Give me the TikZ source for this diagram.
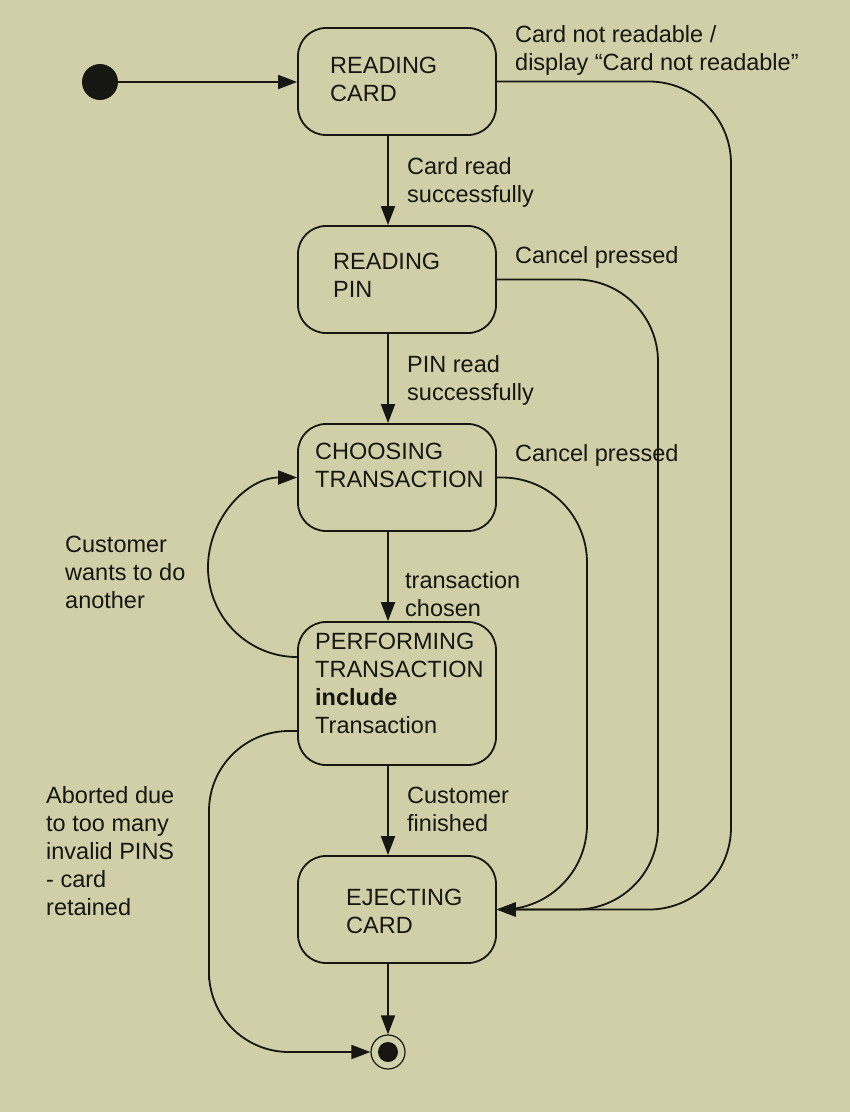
\documentclass[tikz,border=0pt]{standalone}
\usepackage{fontspec}
\setmainfont{Liberation Sans}
\usetikzlibrary{arrows.meta,calc}
\definecolor{bg}{RGB}{208,207,167}
\definecolor{ink}{RGB}{22,22,18}
\newcommand{\ml}[1]{\begin{tabular}[t]{@{}l@{}}#1\end{tabular}}
\begin{document}
\begin{tikzpicture}[x=1pt,y=-1pt,
  statebox/.style={draw=ink, rounded corners=28pt, minimum width=198pt, inner sep=0pt, line width=1.8pt},
  txt/.style={anchor=base west, inner sep=0pt, font=\fontsize{23.5}{28}\selectfont, text=ink},
  trans/.style={draw=ink, line width=1.8pt, -{Triangle[length=19pt,width=14pt]}}]
\fill[bg] (0,0) rectangle (850,1112);
\useasboundingbox (0,0) rectangle (850,1112);

% states
\node[statebox, minimum height=107pt] (rc) at (397,81.5) {};
\node[statebox, minimum height=107pt] (rp) at (397,279.5) {};
\node[statebox, minimum height=107pt] (ct) at (397,477.5) {};
\node[statebox, minimum height=143pt] (pt) at (397,693.5) {};
\node[statebox, minimum height=107pt] (ec) at (397,909.5) {};

\node[txt] (rct) at (330,73) {\ml{READING\\CARD}};
\node[txt] (rpt) at (333,269) {\ml{READING\\PIN}};
\node[txt] (ctt) at (315,459) {\ml{CHOOSING\\TRANSACTION}};
\node[txt] (ptt) at (315,649) {\ml{PERFORMING\\TRANSACTION\\\textbf{include}\\Transaction}};
\node[txt] (ect) at (346,905) {\ml{EJECTING\\CARD}};

% pseudo states
\node[circle, fill=ink, minimum size=36pt, inner sep=0pt] (init) at (100,82) {};
\node[circle, draw=ink, line width=1.2pt, minimum size=34pt, inner sep=0pt] (fin) at (388,1052) {};
\node[circle, fill=ink, minimum size=20pt, inner sep=0pt] (fincore) at (fin.center) {};

% labels
\node[txt] (l1) at (515,42) {\ml{Card not readable /\\display “Card not readable”}};
\node[txt] (l2) at (407,174) {\ml{Card read\\successfully}};
\node[txt] (l3) at (515,263) {Cancel pressed};
\node[txt] (l4) at (407,372) {\ml{PIN read\\successfully}};
\node[txt] (l5) at (515,461) {Cancel pressed};
\node[txt] (l6) at (65,552) {\ml{Customer\\wants to do\\another}};
\node[txt] (l7) at (405,588) {\ml{transaction\\chosen}};
\node[txt] (l8) at (46,803) {\ml{Aborted due\\to too many\\invalid PINS\\- card\\retained}};
\node[txt] (l9) at (407,803) {\ml{Customer\\finished}};

% helper coordinates
\coordinate (c1) at (731,500);
\coordinate (c2) at (658,600);
\coordinate (c3) at (587,700);
\coordinate (lm) at (208,567.5);
\coordinate (a1) at (209,900);

% transitions
\draw[trans] (init) -- (init -| rc.west);
\draw[trans] (rc.south -| fin) -- (rp.north -| fin);
\draw[trans] (rp.south -| fin) -- (ct.north -| fin);
\draw[trans] (ct.south -| fin) -- (pt.north -| fin);
\draw[trans] (pt.south -| fin) -- (ec.north -| fin);
\draw[trans] (ec.south -| fin) -- (fin.north);

\draw[trans, rounded corners=82pt] (rc.east) -| (c1) |- (ec.east);
\draw[trans, rounded corners=82pt] (rp.east) -| (c2) |- (ec.east);
\draw[trans, rounded corners=85pt] (ct.east) -| (c3) |- (ec.east);

\draw[trans] ([yshift=36.5pt]pt.west) to[out=180,in=270] (lm) to[out=90,in=180] (ct.west);
\draw[trans, rounded corners=80pt] ([yshift=-37.5pt]pt.west) -| (a1) |- (fin.west);
\end{tikzpicture}
\end{document}
